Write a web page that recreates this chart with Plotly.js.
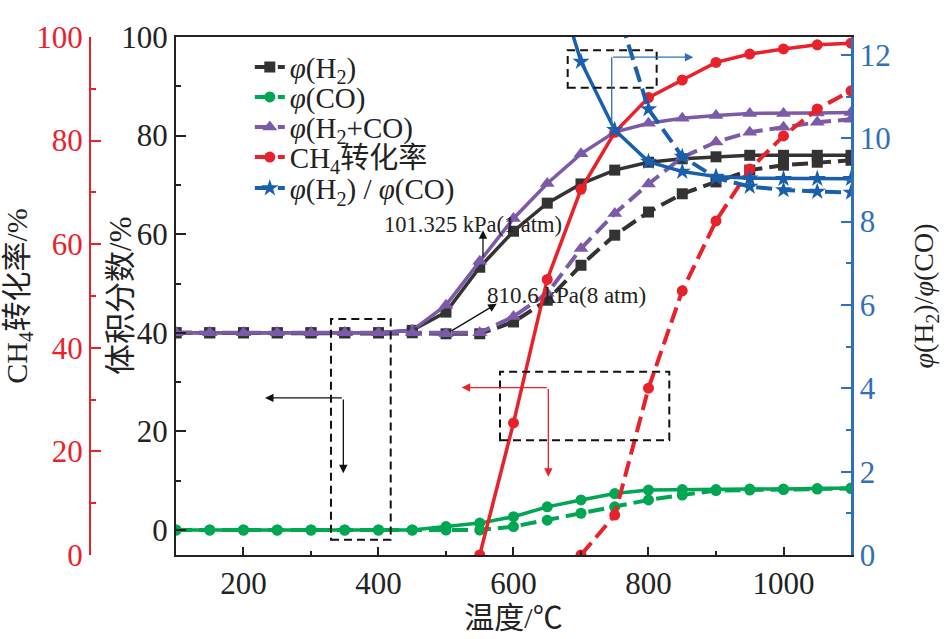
<!DOCTYPE html>
<html>
<head>
<meta charset="utf-8">
<script src="https://cdn.plot.ly/plotly-3.0.1.min.js"></script>
<style>
  body { margin: 0; background: #fff; }
  #chart { width: 946px; height: 639px; }
</style>
</head>
<body>
<div id="chart"></div>
<script>
// temperature points, degC
var temps = [100, 150, 200, 250, 300, 350, 400, 450, 500, 550, 600,
             650, 700, 750, 800, 850, 900, 950, 1000, 1050, 1100];

// volume fractions, % (left inner axis)
var h2_1atm   = [40, 40, 40, 40, 40, 40, 40, 40.5, 44.2, 53.3, 60.6,
                 66.3, 70.2, 73, 74.6, 75.3, 75.7, 76, 76, 76, 76];
var h2_8atm   = [40, 40, 40, 40, 40, 40, 40, 40, 39.8, 39.8, 42.2,
                 46.6, 53.7, 59.8, 64.5, 68.2, 70.6, 73, 74, 74.6, 75];
var co_1atm   = [0, 0, 0, 0, 0, 0, 0, 0, 0.7, 1.4, 2.7,
                 4.7, 6.1, 7.4, 8.1, 8.2, 8.2, 8.3, 8.3, 8.4, 8.5];
var co_8atm   = [0, 0, 0, 0, 0, 0, 0, 0, 0, 0, 0.7,
                 2, 3.4, 4.7, 6.1, 7.1, 8, 8.1, 8.2, 8.3, 8.4];
var syn_1atm  = [40, 40, 40, 40, 40, 40, 40, 40.5, 45.6, 54.5, 63.2,
                 70.3, 76.3, 80.7, 82.5, 83.5, 84.1, 84.5, 84.5, 84.6, 84.7];
var syn_8atm  = [40, 40, 40, 40, 40, 40, 40, 40, 39.8, 40, 43.3,
                 48, 57.1, 64.2, 70.2, 75.6, 78.7, 80.7, 81.7, 82.7, 83.3];

// CH4 conversion, % (red axis)
var ch4T_1atm = [550, 600, 650, 700, 750, 800, 850, 900, 950, 1000, 1050, 1100];
var ch4_1atm  = [0, 25.5, 53.2, 70.6, 81.6, 88.3, 91.7, 95.1, 96.7, 97.7, 98.5, 98.8];
var ch4T_8atm = [700, 750, 800, 850, 900, 950, 1000, 1050, 1100];
var ch4_8atm  = [0, 7.7, 32.2, 51, 64.5, 74.5, 80.9, 86.1, 89.6];

// H2/CO ratio (right axis)
var ratioT_1atm = [650, 700, 750, 800, 850, 900, 950, 1000, 1050, 1100];
var ratio_1atm  = [14.5, 11.84, 10.2, 9.44, 9.2, 9.08, 9.04, 9.03, 9.03, 9.03];
var ratioT_8atm = [750, 800, 850, 900, 950, 1000, 1050, 1100];
var ratio_8atm  = [13.3, 10.7, 9.56, 9.05, 8.84, 8.76, 8.72, 8.7];

var BLACK = '#333333', GREEN = '#00a651', PURPLE = '#7b5aa8',
    RED = '#e8212b', BLUE = '#1a5fae', AXBLUE = '#2f70b8';
var SERIF = 'Liberation Serif, Noto Sans CJK SC, serif';
var NUM = 'Liberation Serif';
var DASH = '16px,7px';

// legend rows, one small legend per entry so the rows sit tight like the original
var legendRows = [0.942, 0.884, 0.826, 0.768, 0.708];

function series(x, y, color, symbol, size, dashed, name, axis, legendId) {
    var t = {
        type: 'scatter',
        mode: 'lines+markers',
        x: x,
        y: y,
        yaxis: axis,
        name: name,
        showlegend: dashed,
        cliponaxis: true,
        line: {color: color, width: dashed ? 4 : 3.5, dash: dashed ? DASH : 'solid'},
        marker: {symbol: symbol, size: size, color: color, line: {width: 0}}
    };
    if (legendId) t.legend = legendId;
    return t;
}

var data = [
    series(temps, h2_1atm, BLACK, 'square', 11, false, '', 'y'),
    series(temps, co_1atm, GREEN, 'circle', 11, false, '', 'y'),
    series(temps, syn_1atm, PURPLE, 'triangle-up', 13, false, '', 'y'),
    series(temps, h2_8atm, BLACK, 'square', 11, true, '<i>φ</i>(H<sub>2</sub>)', 'y', 'legend'),
    series(temps, co_8atm, GREEN, 'circle', 11, true, '<i>φ</i>(CO)', 'y', 'legend2'),
    series(temps, syn_8atm, PURPLE, 'triangle-up', 13, true, '<i>φ</i>(H<sub>2</sub>+CO)', 'y', 'legend3'),
    series(ch4T_1atm, ch4_1atm, RED, 'circle', 11, false, '', 'y2'),
    series(ch4T_8atm, ch4_8atm, RED, 'circle', 11, true, 'CH<sub>4</sub>转化率', 'y2', 'legend4'),
    series(ratioT_1atm, ratio_1atm, BLUE, 'star', 13, false, '', 'y3'),
    series(ratioT_8atm, ratio_8atm, BLUE, 'star', 13, true, '<i>φ</i>(H<sub>2</sub>) / <i>φ</i>(CO)', 'y3', 'legend5')
];

function legendAt(y) {
    return {x: 0.21, y: y, xanchor: 'left', yanchor: 'middle',
            bgcolor: 'rgba(0,0,0,0)', font: {family: SERIF, size: 29, color: '#222'},
            tracegroupgap: 0, itemwidth: 30};
}

function arrow(x, y, ax, ay, color) {
    return {x: x, y: y, ax: ax, ay: ay, xref: 'x', yref: 'y', axref: 'x', ayref: 'y',
            text: '', showarrow: true, arrowhead: 2, arrowsize: 1.3, arrowwidth: 1.3,
            arrowcolor: color, standoff: 0, startstandoff: 0};
}

function box(x0, x1, y0, y1) {
    return {type: 'rect', xref: 'x', yref: 'y', x0: x0, x1: x1, y0: y0, y1: y1,
            line: {color: '#111', width: 2, dash: '8px,5px'}};
}

function seg(x0, y0, x1, y1, color) {
    return {type: 'line', xref: 'x', yref: 'y', x0: x0, y0: y0, x1: x1, y1: y1,
            line: {color: color, width: 1.3}};
}

var layout = {
    width: 946,
    height: 639,
    margin: {l: 90, r: 95, t: 37, b: 84},
    paper_bgcolor: '#fff',
    plot_bgcolor: '#fff',
    font: {family: SERIF, size: 26, color: '#222'},
    showlegend: true,
    legend: legendAt(legendRows[0]),
    legend2: legendAt(legendRows[1]),
    legend3: legendAt(legendRows[2]),
    legend4: legendAt(legendRows[3]),
    legend5: legendAt(legendRows[4]),
    xaxis: {
        domain: [0.113, 1],
        range: [100, 1100],
        tickvals: [200, 400, 600, 800, 1000],
        ticks: 'inside', ticklen: 8, tickwidth: 2, tickcolor: '#222',
        minor: {tick0: 100, dtick: 100, ticks: 'inside', ticklen: 4, tickwidth: 2, tickcolor: '#222'},
        showline: true, linecolor: '#222', linewidth: 2, mirror: true,
        showgrid: false, zeroline: false,
        tickfont: {family: NUM, size: 31, color: '#222'},
        title: {text: '温度/℃', font: {family: SERIF, size: 30, color: '#222'}, standoff: 6}
    },
    yaxis: {
        range: [-5.07, 100],
        tickvals: [0, 20, 40, 60, 80, 100],
        ticks: 'inside', ticklen: 10, tickwidth: 2, tickcolor: '#222',
        minor: {tick0: 0, dtick: 10, ticks: 'inside', ticklen: 5, tickwidth: 2, tickcolor: '#222'},
        showline: true, linecolor: '#222', linewidth: 2,
        showgrid: false, zeroline: false,
        tickfont: {family: NUM, size: 31, color: '#222'}
    },
    yaxis2: {
        overlaying: 'y', anchor: 'free', position: 0, side: 'left',
        range: [0, 100],
        tickvals: [0, 20, 40, 60, 80, 100],
        ticks: 'inside', ticklen: 10, tickwidth: 2, tickcolor: RED,
        minor: {tick0: 0, dtick: 10, ticks: 'inside', ticklen: 5, tickwidth: 2, tickcolor: RED},
        showline: true, linecolor: RED, linewidth: 2,
        showgrid: false, zeroline: false,
        tickfont: {family: NUM, size: 31, color: RED},
        title: {text: 'CH<sub>4</sub>转化率/%', font: {family: SERIF, size: 30, color: '#222'}, standoff: 8}
    },
    yaxis3: {
        overlaying: 'y', anchor: 'x', side: 'right',
        range: [0, 12.43],
        tickvals: [0, 2, 4, 6, 8, 10, 12],
        ticks: 'inside', ticklen: 10, tickwidth: 2, tickcolor: AXBLUE,
        minor: {tick0: 0, dtick: 1, ticks: 'inside', ticklen: 5, tickwidth: 2, tickcolor: AXBLUE},
        showline: true, linecolor: AXBLUE, linewidth: 2.5,
        showgrid: false, zeroline: false,
        tickfont: {family: NUM, size: 31, color: AXBLUE},
        title: {text: '<i>φ</i>(H<sub>2</sub>)/<i>φ</i>(CO)', font: {family: SERIF, size: 28, color: '#222'}, standoff: 24}
    },
    shapes: [
        box(329.6, 418.1, -2.0, 42.8),
        box(580, 830.8, 18.2, 32.1),
        box(680.3, 812.1, 89.7, 97.3),
        seg(745.5, 81.1, 745.5, 95.9, AXBLUE)
    ],
    annotations: [
        // inner left axis title, placed by hand between the two left axes
        {x: 0.0394, y: 0.5, xref: 'paper', yref: 'paper', xanchor: 'center', yanchor: 'middle',
         text: '体积分数/%', textangle: -90,
         showarrow: false, font: {family: SERIF, size: 31, color: '#222'}},
        {x: 540, y: 62, xref: 'x', yref: 'y', text: '101.325 kPa(1 atm)', showarrow: false,
         font: {family: SERIF, size: 22.5, color: '#222'}},
        {x: 679, y: 47.6, xref: 'x', yref: 'y', text: '810.6 kPa(8 atm)', showarrow: false,
         font: {family: SERIF, size: 23, color: '#222'}},
        arrow(554.8, 60.8, 554.8, 55.1, '#111'),
        arrow(575.1, 45.9, 505.9, 40.2, '#111'),
        arrow(231.9, 26.8, 347.9, 26.8, '#111'),
        arrow(347.9, 11.5, 347.9, 26.8, '#111'),
        arrow(523.3, 28.9, 651.6, 28.9, RED),
        arrow(651.6, 10.8, 651.6, 28.9, RED),
        arrow(866.4, 95.9, 745.5, 95.9, AXBLUE)
    ]
};

Plotly.newPlot('chart', data, layout, {displayModeBar: false, staticPlot: true});
</script>
</body>
</html>
